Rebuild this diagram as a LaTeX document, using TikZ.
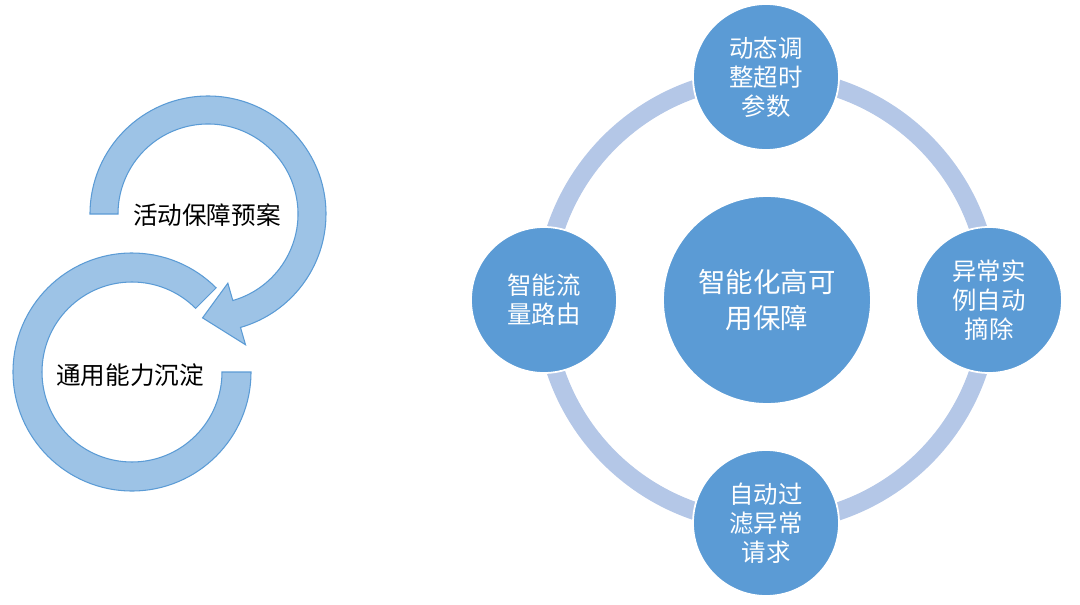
\documentclass[tikz,border=0pt]{standalone}
\usepackage{fontspec}
\newfontfamily\cjk{Noto Sans CJK SC}
\usetikzlibrary{positioning}
\definecolor{arrowfill}{HTML}{9DC3E6}
\definecolor{arrowline}{HTML}{5B9BD5}
\definecolor{ringblue}{HTML}{B4C7E7}
\definecolor{discblue}{HTML}{5B9BD5}

\begin{document}
\begin{tikzpicture}[
    x=0.02cm, y=0.02cm,
    cyclearrow/.style = {fill=arrowfill, draw=arrowline, line width=0.6pt, line join=miter},
    cyclelabel/.style = {font={\cjk\fontsize{14}{17}\selectfont}, text=black},
    hubdisc/.style = {circle, fill=discblue, draw=white, line width=1pt, minimum size=4.16cm, inner sep=0pt, align=center, text=white, font={\cjk\fontsize{15.6}{20.4}\selectfont}},
    satdisc/.style = {circle, fill=discblue, draw=white, line width=1pt, minimum size=2.92cm, inner sep=0pt, align=center, text=white, font={\cjk\fontsize{13.9}{16.4}\selectfont}},
    ring/.style = {draw=ringblue, line width=0.36cm}
]
\useasboundingbox (0,0) rectangle (1080,-605);

% Cycle arrows
\begin{scope}[shift={(208,-214)}]
  \filldraw [cyclearrow] (180:118) arc[start angle=180, end angle=-74, radius=118]
    -- (-74:136) -- (-93:104) -- (-74:72) -- (-74:90)
    arc[start angle=-74, end angle=180, radius=90] -- cycle;
\end{scope}
\begin{scope}[shift={(132,-372)}]
  \filldraw [cyclearrow] (0:119) arc[start angle=0, end angle=-315, radius=119]
    -- (45:90) arc[start angle=45, end angle=360, radius=90] -- cycle;
\end{scope}
\node (plan) [cyclelabel] at (207,-215) {活动保障预案};
\node (reuse) [cyclelabel] at (130,-375) {通用能力沉淀};

% Ring
\node (hub) [hubdisc] at (767,-300) {智能化高可\\用保障};
\draw [ring] (hub.center) circle[radius=223];

% Satellites
\node (timeout) [satdisc] at (766,-77) {动态调\\整超时\\参数};
\node (evict) [satdisc] at (989,-300) {异常实\\例自动\\摘除};
\node (filter) [satdisc] at (766,-523) {自动过\\滤异常\\请求};
\node (route) [satdisc] at (544,-300) {智能流\\量路由};

\end{tikzpicture}
\end{document}
